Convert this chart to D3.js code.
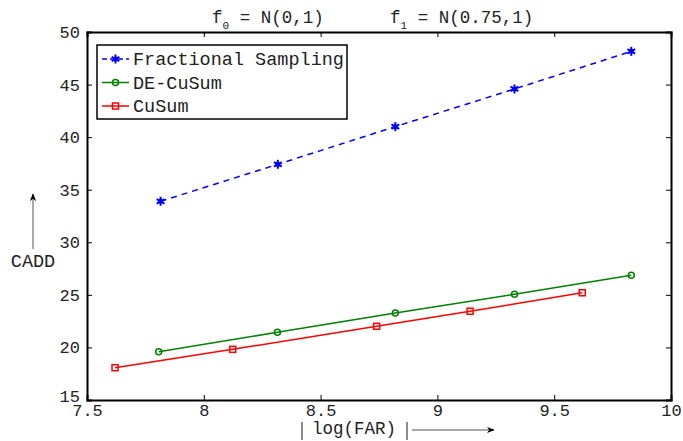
<!DOCTYPE html>
<html>
<head>
<meta charset="utf-8">
<script src="https://cdn.jsdelivr.net/npm/d3@7"></script>
<style>
  body { margin: 0; background: #fff; }
  text { font-family: "Liberation Mono", "DejaVu Sans Mono", monospace; fill: #222; }
</style>
</head>
<body>
<div id="vis"></div>
<script>
// frame
const FRAME_WIDTH = 683;
const FRAME_HEIGHT = 441;
const MARGINS = {left: 87, right: 12, top: 32, bottom: 41};

// data
const fsX = [7.815, 8.317, 8.82, 9.33, 9.83];
const fsY = [33.9, 37.42, 41.0, 44.58, 48.16];
const deX = [7.807, 8.315, 8.82, 9.33, 9.83];
const deY = [19.59, 21.44, 23.27, 25.05, 26.86];
const cuX = [7.62, 8.124, 8.74, 9.14, 9.62];
const cuY = [18.07, 19.82, 22.01, 23.44, 25.2];
const xTicks = [7.5, 8, 8.5, 9, 9.5, 10];
const yTicks = [15, 20, 25, 30, 35, 40, 45, 50];

const series = [
  {name: "Fractional Sampling", xs: fsX, ys: fsY, color: "#0000ff", dash: "6,5", marker: "star"},
  {name: "DE-CuSum", xs: deX, ys: deY, color: "#008000", dash: null, marker: "circle"},
  {name: "CuSum", xs: cuX, ys: cuY, color: "#ff0000", dash: null, marker: "square"}
];

const svg = d3.select("#vis")
  .append("svg")
    .attr("width", FRAME_WIDTH)
    .attr("height", FRAME_HEIGHT);

const W = FRAME_WIDTH - MARGINS.left - MARGINS.right;
const H = FRAME_HEIGHT - MARGINS.top - MARGINS.bottom;

const x = d3.scaleLinear().domain([7.5, 10]).range([MARGINS.left, MARGINS.left + W]);
const y = d3.scaleLinear().domain([15, 50]).range([MARGINS.top + H, MARGINS.top]);

// axes, matlab style: ticks inward on all four sides
const tickLen = 5;
svg.append("g")
  .attr("transform", `translate(0,${MARGINS.top + H})`)
  .call(d3.axisBottom(x).tickValues(xTicks).tickSize(-tickLen).tickPadding(4)
        .tickFormat(d => d));
svg.append("g")
  .attr("transform", `translate(0,${MARGINS.top})`)
  .call(d3.axisTop(x).tickValues(xTicks).tickSize(-tickLen).tickFormat(""));
const yAxisG = svg.append("g")
  .attr("transform", `translate(${MARGINS.left},0)`)
  .call(d3.axisLeft(y).tickValues(yTicks).tickSize(-tickLen).tickPadding(7));
svg.append("g")
  .attr("transform", `translate(${MARGINS.left + W},0)`)
  .call(d3.axisRight(y).tickValues(yTicks).tickSize(-tickLen).tickFormat(""));

svg.selectAll(".domain").attr("stroke", "#000").attr("stroke-width", 2);
svg.selectAll(".tick line").attr("stroke", "#000").attr("stroke-width", 1);
svg.selectAll(".tick text")
  .attr("font-size", 17)
  .attr("fill", "#222");
// the bottom "15" sits just above the "7.5"
yAxisG.selectAll(".tick text").filter(d => d === 15).attr("y", -4);

// lines
const line = d3.line().x(d => x(d[0])).y(d => y(d[1]));

function drawMarker(g, type, color) {
  if (type === "circle") {
    g.append("circle").attr("r", 3).attr("fill", "none")
      .attr("stroke", color).attr("stroke-width", 1.5);
  } else if (type === "square") {
    g.append("rect").attr("x", -3).attr("y", -3).attr("width", 6).attr("height", 6)
      .attr("fill", "none").attr("stroke", color).attr("stroke-width", 1.5);
  } else {
    // six-armed asterisk
    [0, 60, 120].forEach(a => {
      g.append("line")
        .attr("x1", 0).attr("x2", 0).attr("y1", -4.5).attr("y2", 4.5)
        .attr("transform", `rotate(${a})`)
        .attr("stroke", color).attr("stroke-width", 2);
    });
    g.append("circle").attr("r", 2.5).attr("fill", color);
  }
}

series.forEach(s => {
  const pts = s.xs.map((v, i) => [v, s.ys[i]]);
  svg.append("path")
    .datum(pts)
    .attr("d", line)
    .attr("fill", "none")
    .attr("stroke", s.color)
    .attr("stroke-width", 1.5)
    .attr("stroke-dasharray", s.dash);
  svg.selectAll(null)
    .data(pts)
    .enter()
    .append("g")
      .attr("transform", d => `translate(${x(d[0])},${y(d[1])})`)
      .each(function() { drawMarker(d3.select(this), s.marker, s.color); });
});

// legend
const LEG = {x: 97, y: 45, w: 250, h: 74, row: 23.5};
svg.append("rect")
  .attr("x", LEG.x).attr("y", LEG.y).attr("width", LEG.w).attr("height", LEG.h)
  .attr("fill", "#fff").attr("stroke", "#000").attr("stroke-width", 1.5);
series.forEach((s, i) => {
  const cy = LEG.y + 14 + i * LEG.row;
  svg.append("line")
    .attr("x1", LEG.x + 5).attr("x2", LEG.x + 32).attr("y1", cy).attr("y2", cy)
    .attr("stroke", s.color).attr("stroke-width", 1.5)
    .attr("stroke-dasharray", s.dash ? "5,3" : null);
  const m = svg.append("g").attr("transform", `translate(${LEG.x + 18.5},${cy})`);
  drawMarker(m, s.marker, s.color);
  svg.append("text")
    .attr("x", LEG.x + 36).attr("y", cy + 6)
    .attr("font-size", 18.5)
    .text(s.name);
});

// title
const title = svg.append("text").attr("y", 23).attr("font-size", 17.5);
title.append("tspan").attr("x", 212).text("f");
title.append("tspan").attr("dy", 6).attr("font-size", 11).text("0");
title.append("tspan").attr("dy", -6).text(" = N(0,1)");
title.append("tspan").attr("x", 390).text("f");
title.append("tspan").attr("dy", 6).attr("font-size", 11).text("1");
title.append("tspan").attr("dy", -6).text(" = N(0.75,1)");

// y label with arrow
svg.append("text")
  .attr("x", 33).attr("y", 267)
  .attr("text-anchor", "middle")
  .attr("font-size", 18.5)
  .text("CADD");
svg.append("defs").append("marker")
  .attr("id", "arrow")
  .attr("viewBox", "0 0 10 10")
  .attr("refX", 9).attr("refY", 5)
  .attr("markerWidth", 8).attr("markerHeight", 8)
  .attr("orient", "auto")
  .append("path").attr("d", "M0,1 L10,5 L0,9 L3,5 Z").attr("fill", "#000");
svg.append("line")
  .attr("x1", 33).attr("x2", 33).attr("y1", 249).attr("y2", 194)
  .attr("stroke", "#555").attr("stroke-width", 1)
  .attr("marker-end", "url(#arrow)");

// x label |log(FAR)| with arrow
svg.append("text")
  .attr("x", 354).attr("y", 434)
  .attr("text-anchor", "middle")
  .attr("font-size", 17.5)
  .text("log(FAR)");
[302, 407].forEach(bx => {
  svg.append("line")
    .attr("x1", bx).attr("x2", bx).attr("y1", 422).attr("y2", 440)
    .attr("stroke", "#666").attr("stroke-width", 1.5);
});
svg.append("line")
  .attr("x1", 412).attr("x2", 494).attr("y1", 430).attr("y2", 430)
  .attr("stroke", "#555").attr("stroke-width", 1)
  .attr("marker-end", "url(#arrow)");
</script>
</body>
</html>
